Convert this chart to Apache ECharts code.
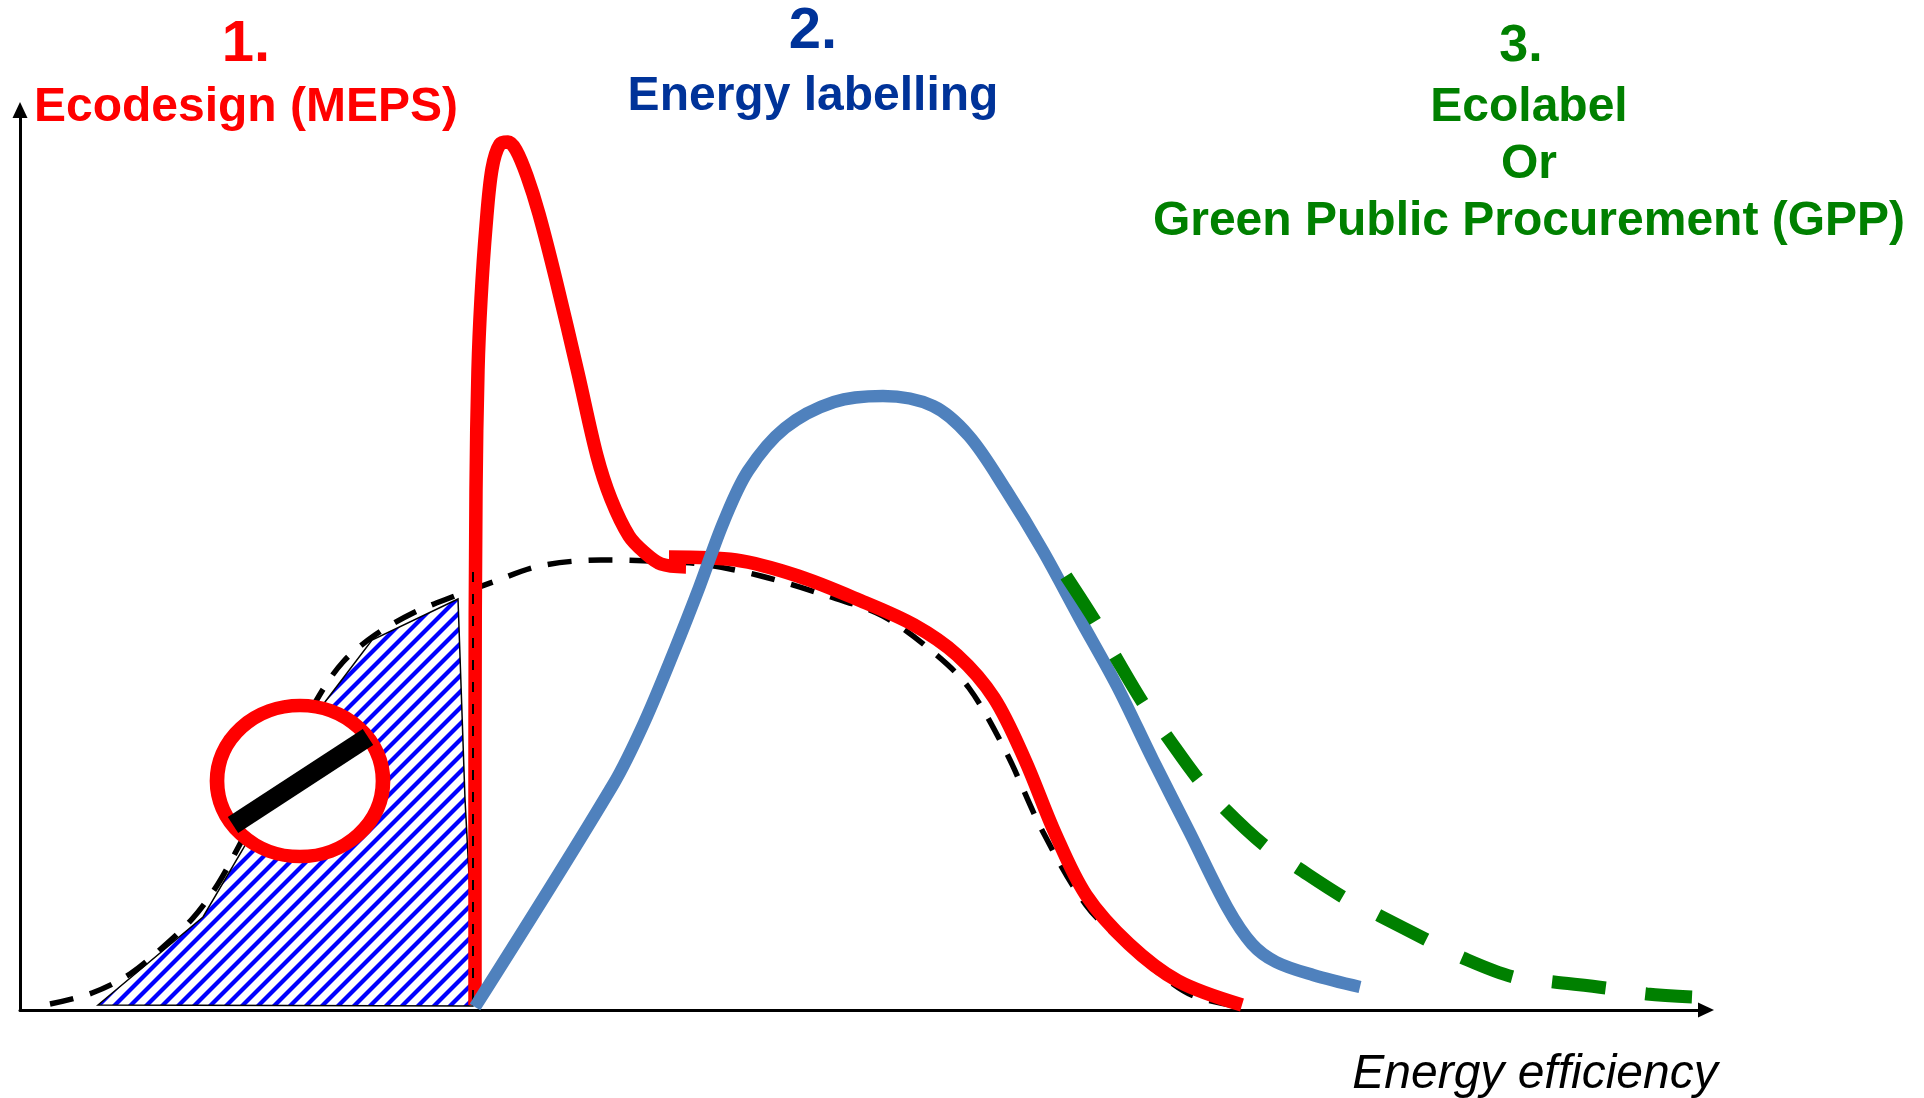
<!DOCTYPE html>
<html>
<head>
<meta charset="utf-8">
<style>html,body{margin:0;padding:0;background:#fff}#c{width:1924px;height:1098px}</style>
<script src="https://cdn.jsdelivr.net/npm/echarts@6/dist/echarts.min.js"></script>
</head>
<body>
<div id="c"></div>
<script>
// Curves as [efficiency, number of products]
const marketCurve = [[30,6],[72,17],[110,36],[143,63],[173,92],[198,126],[220,166],[260,242],[299,314],[323,348],[355,375],[393,397],[432,413],[473,428],[520,444],[581,450],[630,449],[680,446],[741,434],[814,412],[863,394],[913,358],[949,322],[986,258],[1023,178],[1066,105],[1109,62],[1145,32],[1174,14],[1222,3]];
const meepsSpike = [[455,5],[455,275],[456,520],[458,640],[461,711],[466,784],[472,841],[480,866],[488,868],[496,860],[507,834],[519,796],[536,730],[558,637],[577,554],[591,511],[609,474],[624,458],[641,446],[666,443]];
const meepsTail = [[649,453],[716,450],[778,434],[839,410],[894,385],[937,355],[974,312],[1005,250],[1035,177],[1066,115],[1109,66],[1158,29],[1222,5]];
const labelCurve = [[455,3],[593.5,226],[624,287],[655,361],[679,422],[704,489],[728,539],[765,582],[814,608],[863,614],[913,604],[949,574],[986,520],[1023,459],[1060,391],[1097,324],[1133,250],[1170,177],[1207,103],[1232,66],[1256,48],[1293,35],[1340,23]];
const ecolabelCurve = [[1046,434],[1075,389],[1095,354],[1123,307],[1146,275],[1178,231],[1205,201],[1244,165],[1278,142],[1323,113],[1360,94],[1407,70],[1443,52],[1493,33],[1534,28],[1586,22],[1627,16],[1672,13]];
const cutoffLine = [[453,438],[453,1]];
const removedArea = [[78,5],[183,93],[223,161],[305,308],[352,370],[438,411],[445,211],[452,78],[453,4]];
const banCentre = [[280,229]];
const banBar = [[213,185],[348,273]];

const RED = '#ff0000', BLUE = '#4f81bd', GREEN = '#008000', NAVY = '#003399', FONT = '"Liberation Sans", Arial, sans-serif';

const tile = document.createElement('canvas');
tile.width = 16; tile.height = 16;
const g = tile.getContext('2d');
g.fillStyle = '#fff'; g.fillRect(0,0,16,16);
g.strokeStyle = '#0000ff'; g.lineWidth = 4.2;
[[-8,8,8,-8],[0,16,16,0],[8,24,24,8]].forEach(s => { g.beginPath(); g.moveTo(s[0],s[1]); g.lineTo(s[2],s[3]); g.stroke(); });

function curve(data, color, width, z, extra) {
  return Object.assign({
    type:'line', data, z, symbol:'none', smooth:0.33, clip:false, silent:true, animation:false,
    lineStyle:{color, width, cap:'butt', join:'round'}
  }, extra || {});
}
function text(str, x, y, size, fill, weight, style) {
  return {type:'text', x, y, silent:true, style:{
    text:str, fill, align:'center', verticalAlign:'middle',
    font:(style||'normal')+' '+(weight||'bold')+' '+size+'px '+FONT
  }};
}

const chart = echarts.init(document.getElementById('c'), null, {renderer:'canvas'});
chart.setOption({
  backgroundColor:'#fff', animation:false,
  grid:{left:20, top:110, width:1686, height:900, containLabel:false},
  xAxis:{type:'value', min:0, max:1686, splitLine:{show:false}, axisTick:{show:false}, axisLabel:{show:false},
    axisLine:{show:true, onZero:false, symbol:['none','triangle'], symbolSize:[15,16], lineStyle:{color:'#000', width:3}}},
  yAxis:{type:'value', min:0, max:900, splitLine:{show:false}, axisTick:{show:false}, axisLabel:{show:false},
    axisLine:{show:true, onZero:false, symbol:['none','triangle'], symbolSize:[15,16], lineStyle:{color:'#000', width:3}}},
  series:[
    {type:'custom', coordinateSystem:'cartesian2d', data:removedArea, z:1, silent:true, animation:false, clip:false,
     encode:{x:0,y:1},
     renderItem:function(p, api){
       if (p.dataIndex !== 0) return;
       return {type:'polygon', shape:{points:removedArea.map(d => api.coord(d))},
         style:{fill:{image:tile, repeat:'repeat'}, stroke:'#000', lineWidth:1.5}};
     }},
    curve(marketCurve, '#000', 5.5, 2, {lineStyle:{color:'#000', width:5.5, type:[24,17], cap:'butt'}}),
    curve(meepsSpike, RED, 13.5, 3),
    curve(meepsTail, RED, 13.5, 3),
    curve(cutoffLine, '#000', 2, 3.5, {smooth:false, lineStyle:{color:'#000', width:2, type:[10,12], cap:'butt'}}),
    curve(labelCurve, BLUE, 12.5, 4),
    curve(ecolabelCurve, GREEN, 13, 5, {lineStyle:{color:GREEN, width:13, type:[54,40], cap:'butt'}}),
    {type:'scatter', data:banCentre, z:6, silent:true, animation:false, symbol:'circle', symbolSize:[166,151],
     itemStyle:{color:'#fff', borderColor:RED, borderWidth:14, opacity:1}},
    curve(banBar, '#000', 19, 7, {smooth:false})
  ],
  graphic:[
    text('1.', 246, 45, 58, RED),
    text('Ecodesign (MEPS)', 246, 108, 48, RED),
    text('2.', 813, 32, 58, NAVY),
    text('Energy labelling', 813, 97, 48, NAVY),
    text('3.', 1521, 47, 52, GREEN),
    text('Ecolabel', 1529, 108, 48, GREEN),
    text('Or', 1529, 165, 48, GREEN),
    text('Green Public Procurement (GPP)', 1529, 222, 48, GREEN),
    text('Energy efficiency', 1535, 1075, 48, '#000', 'normal', 'italic')
  ]
});
</script>
</body>
</html>
